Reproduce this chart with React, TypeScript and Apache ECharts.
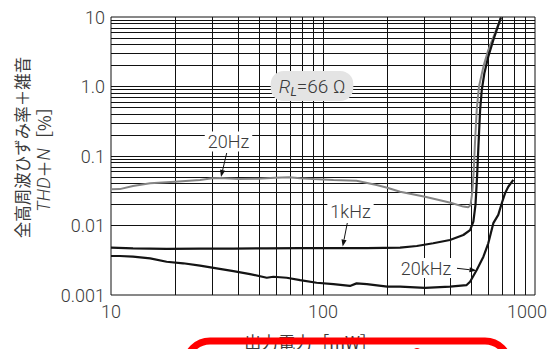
import React, { useEffect, useRef } from "react";
import * as echarts from "echarts";

// Axis tick labels
const xTickLabels = ["10", "100", "1000"];
const yTickLabels = ["0.001", "0.01", "0.1", "1.0", "10"];

// Log grid lines (minor + interior majors)
const xGridValues = [20, 30, 40, 50, 60, 70, 80, 90, 100, 200, 300, 400, 500, 600, 700, 800, 900];
const yGridValues = [
  0.002, 0.003, 0.004, 0.005, 0.006, 0.007, 0.008, 0.009, 0.01,
  0.02, 0.03, 0.04, 0.05, 0.06, 0.07, 0.08, 0.09, 0.1,
  0.2, 0.3, 0.4, 0.5, 0.6, 0.7, 0.8, 0.9, 1,
  2, 3, 4, 5, 6, 7, 8, 9,
];

// 20Hz (gray)
const hz20Power = [10, 11, 12.7, 15.3, 20, 26.3, 30, 32.9, 39.8, 49.5, 59.4, 69.3, 78, 90, 112, 144, 179, 201, 231, 303, 400, 459, 484, 496, 506, 514, 521, 531, 544, 571, 602, 648, 691];
const hz20Thd = [0.0332, 0.0334, 0.037, 0.0405, 0.0427, 0.0452, 0.0478, 0.0483, 0.0467, 0.0471, 0.0488, 0.0494, 0.0478, 0.0467, 0.0452, 0.0441, 0.0383, 0.035, 0.0306, 0.0259, 0.0213, 0.0187, 0.0183, 0.0195, 0.03, 0.06, 0.154, 0.459, 0.993, 1.93, 3.35, 5.89, 9.9];

// 1kHz (black)
const khz1Power = [10, 12.7, 18.3, 26.3, 37.8, 54.3, 78, 112, 161, 231, 277, 331, 397, 459, 494, 512, 524, 533, 541, 551, 561, 577, 602, 636, 691];
const khz1Thd = [0.0048, 0.0047, 0.0046, 0.00464, 0.00464, 0.0047, 0.00474, 0.00474, 0.00474, 0.0048, 0.00507, 0.00555, 0.00618, 0.0073, 0.0086, 0.0114, 0.02, 0.05, 0.14, 0.459, 0.891, 1.55, 2.68, 4.67, 9.9];

// 20kHz (black)
const khz20Power = [10, 11, 12.7, 15.3, 18.3, 21.9, 26.3, 31.5, 37.8, 45.3, 54.3, 58.3, 67.4, 78, 93.3, 112, 134, 144, 161, 201, 231, 303, 397, 476, 494, 531, 571, 602, 636, 671, 697, 722, 748, 790];
const khz20Thd = [0.00364, 0.00364, 0.00356, 0.00337, 0.00301, 0.00286, 0.00264, 0.00242, 0.00221, 0.002, 0.00177, 0.00183, 0.00177, 0.00164, 0.0015, 0.00143, 0.00135, 0.00147, 0.00143, 0.00132, 0.00132, 0.00127, 0.00132, 0.00139, 0.00155, 0.00229, 0.00356, 0.00555, 0.0108, 0.0142, 0.0209, 0.029, 0.0361, 0.0452];

const zip = (xs: number[], ys: number[]) => xs.map((x, i) => [x, ys[i]]);

const FONT = "Roboto, 'Noto Sans', 'Liberation Sans', sans-serif";
const CJK = "'Noto Sans CJK JP', sans-serif";
const TXT = "#3a3a3a";

function arrow(x1: number, y1: number, x2: number, y2: number) {
  const a = Math.atan2(y2 - y1, x2 - x1);
  const L = 7, W = 2.6;
  const bx = x2 - L * Math.cos(a), by = y2 - L * Math.sin(a);
  const px = -Math.sin(a), py = Math.cos(a);
  return [
    { type: "line", z: 100, shape: { x1, y1, x2: bx, y2: by }, style: { stroke: "#111", lineWidth: 1 } },
    {
      type: "polygon", z: 100,
      shape: { points: [[x2, y2], [bx + px * W, by + py * W], [bx - px * W, by - py * W]] },
      style: { fill: "#111" },
    },
  ];
}

function label(text: string, x: number, y: number) {
  return {
    type: "text", z: 100, x, y,
    style: {
      text, align: "center", verticalAlign: "middle",
      font: `300 18px ${FONT}`, fill: TXT,
      backgroundColor: "#fff", padding: [1, 3],
    },
  };
}

export default function App() {
  const ref = useRef<HTMLDivElement>(null);
  useEffect(() => {
    const chart = echarts.init(ref.current!, null, { renderer: "svg" });
    const lineSty = { type: "solid", color: "#111", width: 1 };
    const option: any = {
      animation: false,
      backgroundColor: "#fff",
      grid: {
        left: 111, right: 18, top: 17, bottom: 54,
        containLabel: false, outerBoundsMode: "none",
        show: true, borderColor: "#111", borderWidth: 1, backgroundColor: "transparent",
      },
      xAxis: {
        type: "log", logBase: 10, min: 10, max: 1000,
        axisLine: { show: false }, axisTick: { show: false }, splitLine: { show: false },
        axisLabel: {
          margin: 7, color: TXT, fontSize: 18, fontFamily: FONT, fontWeight: 300,
          showMinLabel: true, showMaxLabel: true,
          formatter: (v: number) => {
            const i = Math.round(Math.log10(v)) - 1;
            return i === 2 ? `{r|${xTickLabels[i]}}` : xTickLabels[i];
          },
          rich: { r: { padding: [0, 16, 0, 0], color: TXT, fontSize: 18, fontFamily: FONT, fontWeight: 300 } },
        },
      },
      yAxis: {
        type: "log", logBase: 10, min: 0.001, max: 10,
        axisLine: { show: false }, axisTick: { show: false }, splitLine: { show: false },
        axisLabel: {
          margin: 6, color: TXT, fontSize: 18, fontFamily: FONT, fontWeight: 300,
          showMinLabel: true, showMaxLabel: true,
          formatter: (v: number) => yTickLabels[Math.round(Math.log10(v)) + 3],
        },
      },
      series: [
        {
          type: "line", name: "20Hz", z: 3,
          data: zip(hz20Power, hz20Thd), showSymbol: false, symbol: "none",
          lineStyle: { color: "#858585", width: 2 },
          markLine: {
            silent: true, symbol: ["none", "none"], z: 1, animation: false,
            label: { show: false }, lineStyle: lineSty,
            emphasis: { disabled: true },
            data: [
              ...xGridValues.map((v) => ({ xAxis: v })),
              ...yGridValues.map((v) => ({ yAxis: v })),
            ],
          },
        },
        {
          type: "line", name: "1kHz", z: 4,
          data: zip(khz1Power, khz1Thd), showSymbol: false, symbol: "none",
          lineStyle: { color: "#141414", width: 2.2 },
        },
        {
          type: "line", name: "20kHz", z: 4,
          data: zip(khz20Power, khz20Thd), showSymbol: false, symbol: "none",
          lineStyle: { color: "#141414", width: 2.2 },
        },
      ],
      graphic: [
        // y-axis title
        {
          type: "text", z: 100, x: 22, y: 147.5, rotation: Math.PI / 2,
          style: {
            text: "全高周波ひずみ率＋雑音", align: "center", verticalAlign: "middle",
            font: `16.5px ${CJK}`, fill: TXT,
          },
        },
        {
          type: "text", z: 100, x: 43, y: 155, rotation: Math.PI / 2,
          style: {
            text: "{i|THD}{n|＋}{i|N}{n|［%］}", align: "center", verticalAlign: "middle",
            rich: {
              i: { fontStyle: "italic", fontSize: 18, fontFamily: FONT, fontWeight: 300, fill: TXT },
              n: { fontSize: 17, fontFamily: CJK, fill: TXT },
            },
          },
        },
        // R_L box
        {
          type: "text", z: 100, x: 312, y: 86,
          style: {
            text: "{i|R}{s|L}{n|=66 Ω}", align: "center", verticalAlign: "middle",
            backgroundColor: "#e4e4e4", borderRadius: 13, padding: [3, 8],
            rich: {
              i: { fontStyle: "italic", fontSize: 19, fontFamily: FONT, fontWeight: 300, fill: TXT, lineHeight: 24 },
              s: { fontStyle: "italic", fontSize: 12, fontFamily: FONT, fill: TXT, lineHeight: 24, verticalAlign: "bottom", padding: [6, 0, 0, 0] },
              n: { fontSize: 19, fontFamily: FONT, fontWeight: 300, fill: TXT, lineHeight: 24 },
            },
          },
        },
        label("20Hz", 228.5, 141.5),
        label("1kHz", 350.5, 211.5),
        label("20kHz", 426, 268),
        ...arrow(226.7, 153, 221, 177),
        ...arrow(347.3, 223, 342.7, 246.5),
        ...arrow(457, 268.3, 476.5, 270.5),
        // x-axis title
        {
          type: "text", z: 100, x: 310.5, y: 341,
          style: {
            text: "出力電力［mW］", align: "center", verticalAlign: "middle",
            font: `17px ${CJK}`, fill: TXT,
          },
        },
        // red frame of the next figure
        {
          type: "rect", z: 110,
          shape: { x: 186, y: 341, width: 323, height: 60, r: 24 },
          style: { fill: "none", stroke: "#ff0000", lineWidth: 7 },
        },
        {
          type: "circle", z: 110,
          shape: { cx: 417, cy: 353, r: 5 },
          style: { fill: "#ff0000" },
        },
      ],
    };
    chart.setOption(option);
    return () => chart.dispose();
  }, []);
  return (
    <div
      ref={ref}
      style={{ width: 553, height: 349, position: "absolute", left: 0, top: 0 }}
    />
  );
}
